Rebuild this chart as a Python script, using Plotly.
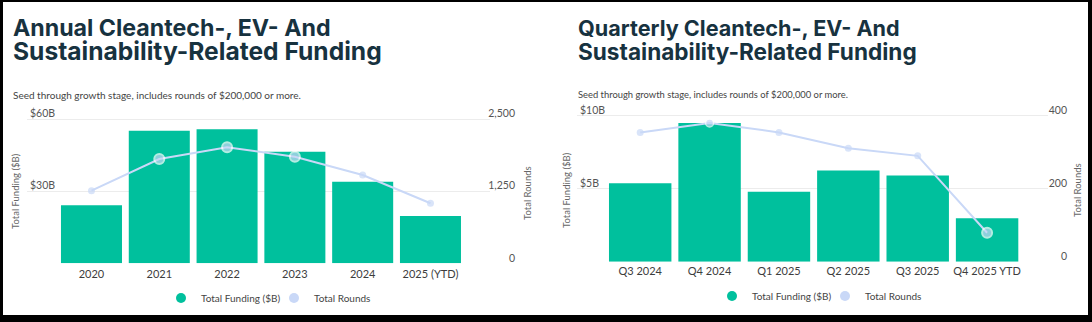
import plotly.graph_objects as go

# ---------------- data ----------------
years = ["2020", "2021", "2022", "2023", "2024", "2025 (YTD)"]
annual_funding = [24.1, 55.1, 55.7, 46.4, 33.9, 19.7]        # $B
annual_rounds = [1258, 1807, 2010, 1847, 1530, 1040]

quarters = ["Q3 2024", "Q4 2024", "Q1 2025", "Q2 2025", "Q3 2025", "Q4 2025 YTD"]
quarterly_funding = [5.36, 9.47, 4.77, 6.22, 5.88, 2.97]   # $B
quarterly_rounds = [353, 379, 353, 310, 289, 79]

left_funding_ticks = [0, 30, 60]
left_funding_text = ["0", "$30B", "$60B"]
left_rounds_ticks = [0, 1250, 2500]
left_rounds_text = ["0", "1,250", "2,500"]
right_funding_ticks = [0, 5, 10]
right_funding_text = ["0", "$5B", "$10B"]
right_rounds_ticks = [0, 200, 400]
right_rounds_text = ["0", "200", "400"]

# ---------------- style ----------------
W, H = 1092, 322
GREEN = "#00C09D"
BLUE = "#C9D8F7"
TITLE = "#17323F"
FONT = "Lato"
TFONT = "Inter"

def fx(px):
    return px / W

def fy(py):
    return 1 - py / H

left_sizes = [7, 10, 10, 10, 7, 7]
left_lw = [0, 2, 2, 2, 0, 0]
right_sizes = [7, 8, 7, 7, 7, 10]
right_lw = [0, 1.5, 0, 0, 0, 2]

fig = go.Figure()

fig.add_trace(go.Bar(x=years, y=annual_funding, marker=dict(color=GREEN, line=dict(width=0)),
                     xaxis="x", yaxis="y", showlegend=False, name="Total Funding ($B)"))
fig.add_trace(go.Scatter(x=years, y=annual_rounds, mode="lines+markers",
                         line=dict(color=BLUE, width=2),
                         marker=dict(color=BLUE, size=left_sizes, line=dict(color="white", width=left_lw)),
                         xaxis="x", yaxis="y2", showlegend=False, name="Total Rounds"))
fig.add_trace(go.Bar(x=quarters, y=quarterly_funding, marker=dict(color=GREEN, line=dict(width=0)),
                     xaxis="x2", yaxis="y3", showlegend=False, name="Total Funding ($B)"))
fig.add_trace(go.Scatter(x=quarters, y=quarterly_rounds, mode="lines+markers",
                         line=dict(color=BLUE, width=2),
                         marker=dict(color=BLUE, size=right_sizes, line=dict(color="white", width=right_lw)),
                         xaxis="x2", yaxis="y4", showlegend=False, name="Total Rounds"))

for lg, xa, ya in (("legend", "x", "y"), ("legend2", "x2", "y3")):
    fig.add_trace(go.Scatter(x=[None], y=[None], mode="markers", name="Total Funding ($B)",
                             marker=dict(color=GREEN, size=10), xaxis=xa, yaxis=ya, legend=lg))
    fig.add_trace(go.Scatter(x=[None], y=[None], mode="markers", name="Total Rounds",
                             marker=dict(color=BLUE, size=10), xaxis=xa, yaxis=ya, legend=lg))

tick_x = dict(size=11, color="#3d3d3d", family=FONT)
tick_y = dict(size=10.5, color="#555555", family=FONT)
grid = "#ececec"

PAD = 14
l_top, l_zero = 119.0, 263.3
r_top, r_zero = 115.2, 261.7
l_ext = PAD / (l_zero - l_top)
r_ext = PAD / (r_zero - r_top)

legend_common = dict(orientation="h", xanchor="left", yanchor="middle",
                     entrywidth=68, entrywidthmode="pixels",
                     font=dict(size=10, color="#444", family=FONT), bgcolor="rgba(0,0,0,0)")

fig.update_layout(
    width=W, height=H,
    margin=dict(l=0, r=0, t=0, b=0),
    paper_bgcolor="white", plot_bgcolor="white",
    font=dict(family=FONT, color="#444"),
    bargap=0.1,
    xaxis=dict(domain=[fx(27), fx(490)], anchor="y", range=[-0.951, 5.878],
               showgrid=False, showline=False, zeroline=False, ticks="",
               ticklabelstandoff=3, tickfont=tick_x),
    yaxis=dict(domain=[fy(l_zero), fy(l_top - PAD)], anchor="x", range=[0, 60 * (1 + l_ext)],
               tickvals=left_funding_ticks, ticktext=left_funding_text,
               ticklabelposition="inside top", ticklabelshift=2, tickfont=tick_y,
               showgrid=True, gridcolor=grid, gridwidth=1, zeroline=False, showline=False, ticks=""),
    yaxis2=dict(overlaying="y", anchor="free", position=fx(515), side="left",
                range=[0, 2500 * (1 + l_ext)],
                tickvals=left_rounds_ticks, ticktext=left_rounds_text,
                ticklabelposition="outside top", ticklabelshift=2, tickfont=tick_y,
                showgrid=False, zeroline=False, showline=False, ticks=""),
    xaxis2=dict(domain=[fx(577), fx(1048)], anchor="y3", range=[-0.911, 5.878],
                showgrid=False, showline=False, zeroline=False, ticks="",
                ticklabelstandoff=1, tickfont=tick_x),
    yaxis3=dict(domain=[fy(r_zero), fy(r_top - PAD)], anchor="x2", range=[0, 10 * (1 + r_ext)],
                tickvals=right_funding_ticks, ticktext=right_funding_text,
                ticklabelposition="inside top", ticklabelshift=2, tickfont=tick_y,
                showgrid=True, gridcolor=grid, gridwidth=1, zeroline=False, showline=False, ticks=""),
    yaxis4=dict(overlaying="y3", anchor="free", position=fx(1067), side="left",
                range=[0, 400 * (1 + r_ext)],
                tickvals=right_rounds_ticks, ticktext=right_rounds_text,
                ticklabelposition="outside top", ticklabelshift=2, tickfont=tick_y,
                showgrid=False, zeroline=False, showline=False, ticks=""),
    legend=dict(x=fx(161), y=fy(298), **legend_common),
    legend2=dict(x=fx(712), y=fy(296), **legend_common),
)

ann = []
def add_text(text, x, y, size, color, family=FONT, bold=False, angle=0, xanchor="left"):
    ann.append(dict(text=("<b>%s</b>" % text) if bold else text, x=fx(x), y=fy(y),
                    xref="paper", yref="paper", xanchor=xanchor, yanchor="middle",
                    showarrow=False, textangle=angle,
                    font=dict(family=family, size=size, color=color)))

add_text("Annual Cleantech-, EV- And", 11, 28, 23.2, TITLE, family=TFONT, bold=True)
add_text("Sustainability-Related Funding", 11, 51, 24.6, TITLE, family=TFONT, bold=True)
add_text("Seed through growth stage, includes rounds of $200,000 or more.", 11, 95, 10, "#444")
add_text("Quarterly Cleantech-, EV- And", 576, 28, 21.6, TITLE, family=TFONT, bold=True)
add_text("Sustainability-Related Funding", 576, 52, 22.6, TITLE, family=TFONT, bold=True)
add_text("Seed through growth stage, includes rounds of $200,000 or more.", 576, 94, 9.4, "#444")
add_text("Total Funding ($B)", 16, 191, 9.5, "#666", angle=-90, xanchor="center")
add_text("Total Rounds", 527, 193, 9.5, "#666", angle=-90, xanchor="center")
add_text("Total Funding ($B)", 566, 190, 9.5, "#666", angle=-90, xanchor="center")
add_text("Total Rounds", 1077, 190, 9.5, "#666", angle=-90, xanchor="center")
fig.update_layout(annotations=ann)

frame = [(0, 0, W, 2), (0, 0, 3, H), (1088, 0, W, H), (0, 315, W, H)]
fig.update_layout(shapes=[dict(type="rect", xref="paper", yref="paper",
                               x0=fx(a), x1=fx(c), y0=fy(d), y1=fy(b),
                               fillcolor="black", line=dict(width=0), layer="above")
                          for a, b, c, d in frame])

fig.write_html("out.html")
